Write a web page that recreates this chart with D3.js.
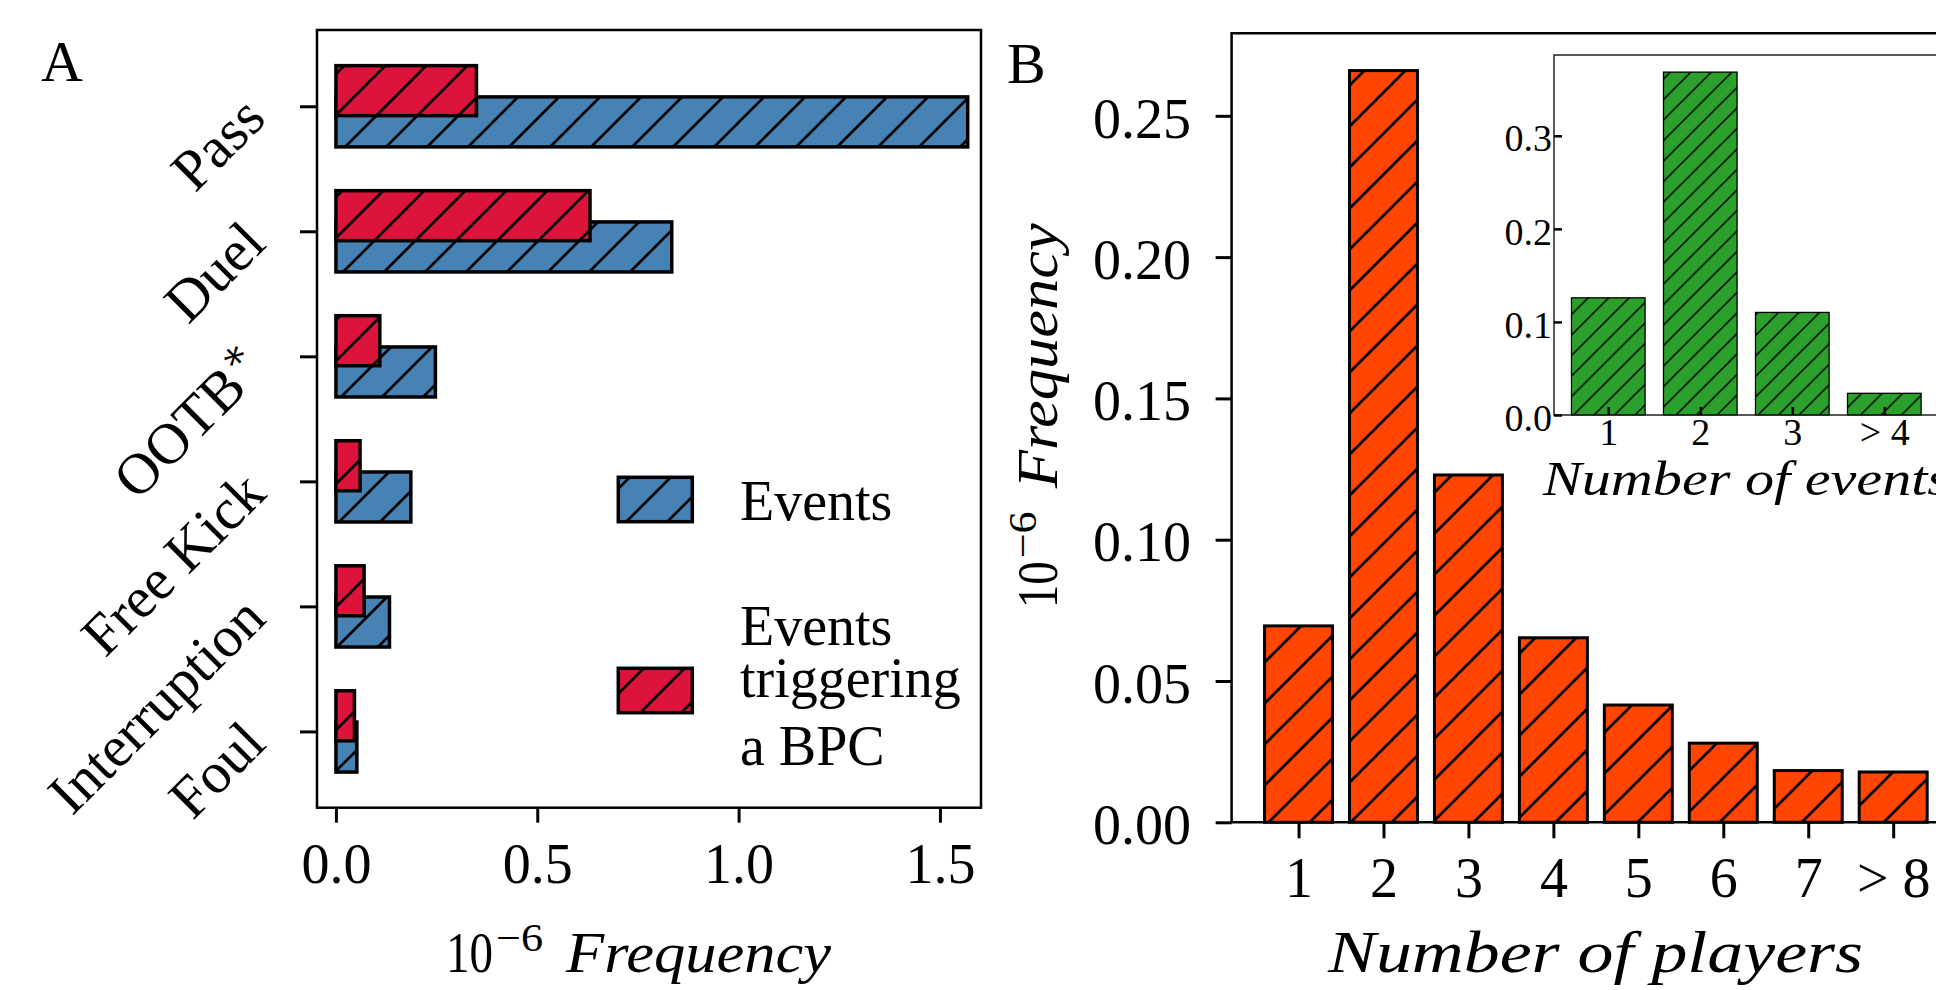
<!DOCTYPE html>
<html>
<head>
<meta charset="utf-8">
<script src="https://cdn.jsdelivr.net/npm/d3@7"></script>
<style>
    body { margin: 0; background: #fff; }
    text { font-family: "Liberation Serif", "DejaVu Serif", serif; fill: #000; }
</style>
</head>
<body>
<script>
// panel A data
const categories = ["Pass", "Duel", "OOTB*", "Free Kick", "Interruption", "Foul"];
const eventsFreq = [1.569, 0.834, 0.247, 0.186, 0.133, 0.052];
const bpcFreq = [0.349, 0.631, 0.109, 0.060, 0.070, 0.046];
const ticksA = [0, 0.5, 1.0, 1.5];
const legendNames = [["Events"], ["Events", "triggering", "a BPC"]];

// panel B data
const playerLabels = ["1", "2", "3", "4", "5", "6", "7", "> 8"];
const playerFreq = [0.0695, 0.266, 0.1229, 0.0653, 0.0415, 0.028, 0.0183, 0.0178];
const ticksB = [0, 0.05, 0.1, 0.15, 0.2, 0.25];

// inset data
const eventLabels = ["1", "2", "3", "> 4"];
const eventCountFreq = [0.1259, 0.3684, 0.1102, 0.0233];
const ticksInset = [0, 0.1, 0.2, 0.3];

const width = 1936;
const height = 990;
const FS = 56;

const svg = d3.select("body").append("svg").attr("width", width).attr("height", height);
const defs = svg.append("defs");

// hatch "/" patterns
const hatch = (id, color, s, lw) => {
    const p = defs.append("pattern").attr("id", id).attr("patternUnits", "userSpaceOnUse")
        .attr("width", s).attr("height", s);
    p.append("rect").attr("width", s).attr("height", s).attr("fill", color);
    p.append("path")
        .attr("d", `M0,${s} L${s},0 M${-s / 2},${s / 2} L${s / 2},${-s / 2} M${s / 2},${1.5 * s} L${1.5 * s},${s / 2}`)
        .attr("stroke", "#000").attr("stroke-width", lw);
    return `url(#${id})`;
};
const blueFill = hatch("hBlue", "#4682B4", 41, 2.7);
const redFill = hatch("hRed", "#DC143C", 41, 2.7);
const orangeFill = hatch("hOrange", "#FF4500", 41, 2.7);
const greenFill = hatch("hGreen", "#2CA02C", 20.5, 1.5);

const styleAxis = (g, fs, tw) => {
    g.select(".domain").remove();
    g.selectAll(".tick line").attr("stroke", "#000").attr("stroke-width", tw);
    g.selectAll(".tick text").attr("font-size", fs).attr("font-family", null).attr("fill", "#000");
};

// "10^-6 Frequency" label, one text along the local x axis
const freqLabel = (g) => {
    const t = g.append("text").attr("font-size", FS);
    t.append("tspan").attr("x", 0).attr("y", 0).attr("textLength", 47).attr("lengthAdjust", "spacingAndGlyphs").text("10");
    t.append("tspan").attr("x", 50).attr("y", -21).attr("font-size", 40).attr("textLength", 47).attr("lengthAdjust", "spacingAndGlyphs").text("\u22126");
    t.append("tspan").attr("x", 120).attr("y", 0).attr("font-size", 58).attr("font-style", "italic")
        .attr("textLength", 265).attr("lengthAdjust", "spacingAndGlyphs").text("Frequency");
};

// panel A
{
    const x = d3.scaleLinear().domain([-0.047, 1.602]).range([317, 981]);
    const y = d3.scaleLinear().domain([-0.61, 5.61]).range([30, 807.7]);
    const gA = svg.append("g").attr("class", "panelA");

    const bars = (vals, off, fill) => gA.append("g").selectAll("rect").data(vals).enter().append("rect")
        .attr("x", x(0))
        .attr("y", (d, i) => y(i + off - 0.2))
        .attr("width", (d) => x(d) - x(0))
        .attr("height", (d, i) => y(i + off + 0.2) - y(i + off - 0.2))
        .attr("fill", fill).attr("stroke", "#000").attr("stroke-width", 3.5);
    bars(eventsFreq, 0.125, blueFill);
    bars(bpcFreq, -0.125, redFill);

    gA.append("rect").attr("x", 317).attr("y", 30).attr("width", 664).attr("height", 777.7)
        .attr("fill", "none").attr("stroke", "#000").attr("stroke-width", 2.5);

    const yAxis = gA.append("g").attr("transform", "translate(317,0)")
        .call(d3.axisLeft(y).tickValues(d3.range(categories.length)).tickFormat(() => "").tickSizeInner(17).tickSizeOuter(0));
    styleAxis(yAxis, FS, 3);
    yAxis.selectAll(".tick").append("text")
        .attr("text-anchor", "end")
        .attr("font-size", 58)
        .attr("transform", "translate(-49,14) rotate(-45)")
        .each(function (d) {
            const name = categories[d];
            const t = d3.select(this);
            if (name.endsWith("*")) {
                t.append("tspan").text(name.slice(0, -1));
                t.append("tspan").attr("font-size", 40).attr("dy", -22).text("\u2217");
            } else t.text(name);
        });

    const xAxis = gA.append("g").attr("transform", "translate(0,807.7)")
        .call(d3.axisBottom(x).tickValues(ticksA).tickFormat(d3.format(".1f")).tickSizeInner(15).tickSizeOuter(0).tickPadding(20.5));
    styleAxis(xAxis, FS, 3);

    freqLabel(gA.append("g").attr("transform", "translate(446,971.7)"));

    // legend
    const legend = gA.append("g").attr("class", "legend");
    const fills = [blueFill, redFill];
    const centers = [499.5, 690.5];
    const lineOffsets = [[20.5], [-45.5, 6.5, 74.5]];
    legendNames.forEach((lines, k) => {
        legend.append("rect").attr("x", 618.3).attr("y", centers[k] - 22.2).attr("width", 74).attr("height", 44.4)
            .attr("fill", fills[k]).attr("stroke", "#000").attr("stroke-width", 3.5);
        const t = legend.append("text").attr("font-size", FS);
        lines.forEach((ln, j) => {
            t.append("tspan").attr("x", 740).attr("y", centers[k] + lineOffsets[k][j]).text(ln);
        });
    });

    svg.append("text").attr("x", 41).attr("y", 81).attr("font-size", 58).text("A");
}

// panel B
{
    const x = d3.scaleLinear().domain([-0.788, 7.79]).range([1231.6, 1960.3]);
    const y = d3.scaleLinear().domain([0, 0.2792]).range([822.3, 33.3]);
    const gB = svg.append("g").attr("class", "panelB");

    gB.append("g").selectAll("rect").data(playerFreq).enter().append("rect")
        .attr("x", (d, i) => x(i - 0.4))
        .attr("y", (d) => y(d))
        .attr("width", x(0.4) - x(-0.4))
        .attr("height", (d) => y(0) - y(d))
        .attr("fill", orangeFill).attr("stroke", "#000").attr("stroke-width", 3);

    // spines
    gB.append("path").attr("d", `M1960.3,33.3 H1231.6 V822.3 H1960.3`).attr("fill", "none")
        .attr("stroke", "#000").attr("stroke-width", 2.5);

    const yAxis = gB.append("g").attr("transform", "translate(1231.6,0)")
        .call(d3.axisLeft(y).tickValues(ticksB).tickFormat(d3.format(".2f")).tickSizeInner(16).tickSizeOuter(0).tickPadding(24.6));
    styleAxis(yAxis, FS, 3);
    yAxis.selectAll(".tick text").attr("dy", "0.38em");

    const xAxis = gB.append("g").attr("transform", "translate(0,822.3)")
        .call(d3.axisBottom(x).tickValues(d3.range(playerLabels.length)).tickFormat((i) => playerLabels[i]).tickSizeInner(16).tickSizeOuter(0).tickPadding(18.6));
    styleAxis(xAxis, FS, 3);

    gB.append("text").attr("x", 1328).attr("y", 971.7).attr("font-size", 60).attr("font-style", "italic")
        .attr("textLength", 535).attr("lengthAdjust", "spacingAndGlyphs").text("Number of players");

    freqLabel(gB.append("g").attr("transform", "translate(1057,608.3) rotate(-90)"));

    svg.append("text").attr("x", 1007).attr("y", 83).attr("font-size", 58).text("B");
}

// inset
{
    const x = d3.scaleLinear().domain([-0.59, 3.59]).range([1554, 1938.6]);
    const y = d3.scaleLinear().domain([0, 0.3868]).range([415, 55]);
    const gI = svg.append("g").attr("class", "inset");

    gI.append("rect").attr("x", 1554).attr("y", 55).attr("width", 1938.6 - 1554).attr("height", 360).attr("fill", "#fff");

    gI.append("g").selectAll("rect").data(eventCountFreq).enter().append("rect")
        .attr("x", (d, i) => x(i - 0.4))
        .attr("y", (d) => y(d))
        .attr("width", x(0.4) - x(-0.4))
        .attr("height", (d) => y(0) - y(d))
        .attr("fill", greenFill).attr("stroke", "#000").attr("stroke-width", 1.3);

    gI.append("rect").attr("x", 1554).attr("y", 55).attr("width", 1938.6 - 1554).attr("height", 360)
        .attr("fill", "none").attr("stroke", "#222").attr("stroke-width", 1.5);

    const yAxis = gI.append("g").attr("transform", "translate(1554,0)")
        .call(d3.axisLeft(y).tickValues(ticksInset).tickFormat(d3.format(".1f")).tickSizeInner(-8).tickSizeOuter(0).tickPadding(2));
    styleAxis(yAxis, 38, 2.5);
    yAxis.selectAll(".tick text").attr("dy", "0.4em");

    const xAxis = gI.append("g").attr("transform", "translate(0,415)")
        .call(d3.axisBottom(x).tickValues(d3.range(eventLabels.length)).tickFormat((i) => eventLabels[i]).tickSizeInner(-8).tickSizeOuter(0).tickPadding(3));
    styleAxis(xAxis, 38, 2.5);

    gI.append("text").attr("x", 1543).attr("y", 495).attr("font-size", 48).attr("font-style", "italic")
        .attr("textLength", 407).attr("lengthAdjust", "spacingAndGlyphs").text("Number of events");
}
</script>
</body>
</html>
